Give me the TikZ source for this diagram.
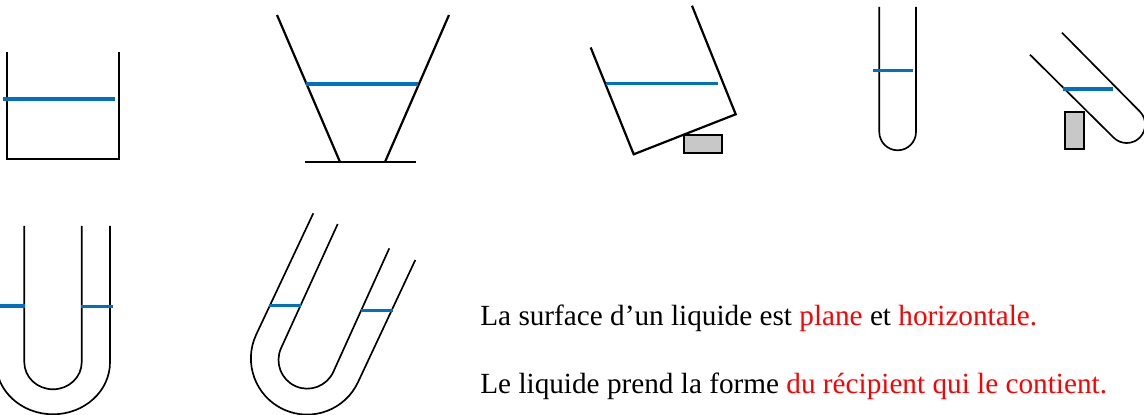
\documentclass[tikz,border=0pt]{standalone}
\usepackage{fontspec}
\setmainfont{Liberation Serif}
\usepackage{xcolor}
\definecolor{surface}{HTML}{0070C0}
\definecolor{cale}{HTML}{C8C8C8}
\definecolor{accent}{HTML}{FF0000}
\tikzset{
  glass/.style={line width=1.25pt, line join=miter},
  thinglass/.style={line width=0.95pt},
  level/.style={line width=1.8pt, color=surface},
  wedge/.style={line width=1.25pt, fill=cale},
  phrase/.style={anchor=base west, inner sep=0pt, font=\fontsize{16.64pt}{20pt}\selectfont}
}

\begin{document}
\begin{tikzpicture}[x=0.02cm, y=-0.02cm]
    \useasboundingbox (0,0) rectangle (1144,415);

    % Beaker
    \draw[glass] (7,52) -- (7,159) -- (119,159) -- (119,52);
    \draw[level] (3,99) -- (115,99);

    % Funnel
    \draw[glass] (277,15) -- (340,162);
    \draw[glass] (449,15) -- (385,162);
    \draw[glass] (305,162) -- (416,162);
    \draw[level] (306,84) -- (418,84);

    % Tilted beaker
    \draw[wedge] (683.7,134.7) rectangle (721.7,153.3);
    \draw[glass] (590.7,47.5) -- (633.7,154.3) -- (735.7,114.3) -- (692,5.7);
    \draw[level] (605.7,83.7) -- (717.7,83.7);

    % Test tube
    \draw[thinglass] (879.3,7) -- (879.3,132) arc (180:0:18.35 and 18.3) -- (916,7);
    \draw[level] (873,70.3) -- (913,70.3);

    % Tilted test tube
    \draw[wedge] (1065.3,111.7) rectangle (1083.7,149);
    \draw[thinglass] (1030,54.7) -- (1113.3,137.3) arc (136.3:-43.7:18.5) -- (1062,32.7);
    \draw[level] (1063.3,89) -- (1113.3,89);

    % U tube
    \draw[thinglass] (24.3,226) -- (24.3,362.3) arc (180:0:28.7 and 27) -- (81.7,226);
    \draw[thinglass] (110,226) -- (110,362.3) arc (0:180:57 and 52) -- (-4,226);
    \draw[level] (0,306) -- (25,306);
    \draw[level] (81,306.5) -- (113,306.5);

    % Tilted U tube
    \draw[thinglass] (313.3,213.3) -- (256,335) arc (204.6:24.6:56.2) -- (415.3,260);
    \draw[thinglass] (337.7,224) -- (281,348.3) arc (204:24:28.7) -- (389.3,248.3);
    \draw[level] (269.3,305.7) -- (301.3,305.7);
    \draw[level] (360.7,310.7) -- (392.7,310.7);

    % Labels
    \node[phrase] (plane) at (480,326) {La surface d’un liquide est \textcolor{accent}{plane} et \textcolor{accent}{horizontale.}};
    \node[phrase] (forme) at (480,394) {Le liquide prend la forme \textcolor{accent}{du récipient qui le contient.}};
\end{tikzpicture}
\end{document}
